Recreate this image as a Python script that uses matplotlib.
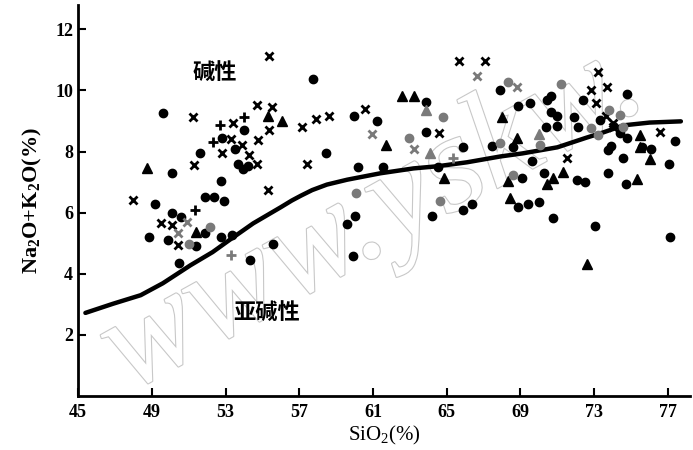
import matplotlib
matplotlib.use("Agg")
import matplotlib.pyplot as plt
import matplotlib.patheffects as pe

plt.rcParams['font.family'] = ['Liberation Serif', 'Noto Sans CJK SC']
plt.rcParams['mathtext.default'] = 'regular'

# dividing curve (alkaline / subalkaline)
curve_x = [45.4, 46.9, 48.4, 49.6, 51.1, 52.3, 53.2, 54.5, 56.0, 56.6, 57.1, 57.7,
           58.5, 59.6, 61.4, 63.2, 64.5, 66.1, 67.9, 69.1, 71.0, 72.6, 73.5, 74.6,
           76.0, 77.7]
curve_y = [2.72, 3.02, 3.30, 3.69, 4.28, 4.71, 5.10, 5.65, 6.18, 6.40, 6.56, 6.74,
           6.92, 7.08, 7.29, 7.45, 7.52, 7.65, 7.84, 7.94, 8.14, 8.46, 8.63, 8.86,
           8.95, 8.99]

dot_x = [49.6, 52.8, 54.0, 51.6, 53.5, 53.7, 53.95, 54.2, 50.1, 52.75, 49.2, 51.9,
         52.4, 52.9, 50.1, 50.6, 48.85, 49.9, 51.9, 52.75, 53.35, 51.4, 55.55, 54.35,
         50.5, 57.75, 59.95, 61.2, 58.45, 60.2, 61.55, 60.0, 59.6, 59.9, 63.9, 63.85,
         65.9, 67.45, 64.55, 64.2, 65.9, 66.35, 67.9, 74.8, 70.65, 70.45, 69.5, 68.85,
         72.4, 70.65, 71.0, 71.9, 73.3, 70.4, 71.0, 72.1, 74.4, 74.8, 77.4, 68.6,
         73.75, 73.9, 76.1, 75.6, 74.55, 77.05, 69.65, 70.3, 72.05, 72.5, 73.75, 74.7,
         69.1, 68.85, 69.4, 70.0, 70.75, 73.05, 77.1]
dot_y = [9.25, 8.45, 8.7, 7.97, 8.07, 7.61, 7.42, 7.52, 7.3, 7.04, 6.3, 6.52,
         6.5, 6.37, 5.98, 5.85, 5.2, 5.1, 5.35, 5.2, 5.26, 4.9, 4.97, 4.46,
         4.35, 10.39, 9.15, 9.0, 7.97, 7.5, 7.5, 5.88, 5.62, 4.58, 9.62, 8.65,
         8.15, 8.17, 7.5, 5.88, 6.08, 6.3, 10.03, 9.9, 9.82, 9.7, 9.58, 9.48,
         9.7, 9.3, 9.15, 9.12, 9.05, 8.8, 8.85, 8.8, 8.6, 8.45, 8.35, 8.14,
         8.04, 8.17, 8.07, 8.14, 7.78, 7.6, 7.7, 7.3, 7.06, 7.0, 7.29, 6.93,
         7.12, 6.18, 6.27, 6.34, 5.82, 5.56, 5.2]

tri_x = [55.3, 56.05, 48.75, 51.4, 62.6, 63.2, 61.7, 64.85, 68.0, 68.8, 75.5, 75.5,
         76.0, 70.75, 70.45, 71.3, 75.3, 68.3, 68.45, 72.6]
tri_y = [9.15, 9.0, 7.45, 5.36, 9.83, 9.83, 8.2, 7.12, 9.12, 8.43, 8.53, 8.14,
         7.75, 7.12, 6.93, 7.32, 7.09, 7.03, 6.47, 4.31]

cross_x = [55.35, 51.25, 54.7, 55.5, 53.4, 55.35, 53.3, 54.75, 53.9, 52.8, 54.3, 54.7,
           51.3, 55.3, 48.0, 49.5, 50.1, 50.4, 57.15, 57.9, 58.6, 60.55, 57.4, 64.6,
           65.65, 67.1, 73.2, 72.8, 73.7, 73.1, 73.65, 74.0, 74.0, 76.55, 71.5]
cross_y = [11.14, 9.12, 9.51, 9.45, 8.92, 8.7, 8.4, 8.37, 8.2, 7.94, 7.88, 7.61,
           7.55, 6.73, 6.4, 5.65, 5.59, 4.93, 8.82, 9.08, 9.15, 9.38, 7.61, 8.6,
           10.95, 10.95, 10.59, 10.03, 10.1, 9.6, 9.18, 8.95, 8.8, 8.63, 7.78]

plus_x = [52.7, 54.0, 52.3, 51.35]
plus_y = [8.86, 9.12, 8.3, 6.08]

# marks half hidden under the watermark (print shows them grey)
gdot_x = [64.65, 68.3, 71.2, 67.9, 70.05, 68.6, 73.8, 74.4, 74.55, 72.8, 73.2, 64.8,
          62.95, 60.1, 52.15, 51.0]
gdot_y = [6.37, 10.29, 10.2, 8.27, 8.2, 7.22, 9.35, 9.2, 8.82, 8.76, 8.53, 9.12,
          8.46, 6.63, 5.52, 4.97]
gtri_x = [63.9, 64.1, 70.0]
gtri_y = [9.35, 7.97, 8.56]
gcross_x = [50.9, 50.4, 60.95, 63.25, 66.65, 68.8]
gcross_y = [5.69, 5.33, 8.56, 8.07, 10.46, 10.13]
gplus_x = [53.3, 65.35]
gplus_y = [4.6, 7.78]

xticks = [45, 49, 53, 57, 61, 65, 69, 73, 77]
yticks = [2, 4, 6, 8, 10, 12]

fig = plt.figure(figsize=(6.93, 4.5), dpi=100)
ax = fig.add_axes([0.1126, 0.12, 0.8832, 0.869])

# watermark
ax.text(61.0, 5.8, 'www.yskw.', fontsize=100, rotation=29, ha='center', va='center',
        color='white', family='Liberation Serif', style='italic', zorder=0,
        path_effects=[pe.withStroke(linewidth=1.6, foreground='#c8c8c8')])

ax.plot(curve_x, curve_y, color='black', lw=3.2, solid_capstyle='round', zorder=2)

ax.plot(dot_x, dot_y, 'o', color='black', ms=6, zorder=3)
ax.plot(tri_x, tri_y, '^', color='black', ms=7.5, zorder=3)
ax.plot(cross_x, cross_y, 'x', color='black', ms=5.5, mew=2, zorder=3)
ax.plot(plus_x, plus_y, '+', color='black', ms=7, mew=2, zorder=3)
ax.plot(gdot_x, gdot_y, 'o', color='#7a7a7a', ms=6, zorder=3)
ax.plot(gtri_x, gtri_y, '^', color='#7a7a7a', ms=7.5, zorder=3)
ax.plot(gcross_x, gcross_y, 'x', color='#7a7a7a', ms=5.5, mew=2, zorder=3)
ax.plot(gplus_x, gplus_y, '+', color='#7a7a7a', ms=7, mew=2, zorder=3)

ax.text(52.4, 10.6, '碱性', fontsize=16, fontweight='bold', ha='center', va='center',
        family='Noto Sans CJK SC')
ax.text(55.25, 2.72, '亚碱性', fontsize=16, fontweight='bold', ha='center', va='center',
        family='Noto Sans CJK SC')

ax.set_xlim(45, 78.2)
ax.set_ylim(0, 12.8)
ax.set_xticks(xticks)
ax.set_yticks(yticks)
ax.tick_params(axis='both', direction='in', width=1.5, length=6, labelsize=13)
ax.tick_params(axis='x', pad=6)
for lab in ax.get_xticklabels() + ax.get_yticklabels():
    lab.set_fontweight('bold')

for s in ['top', 'right']:
    ax.spines[s].set_visible(False)
for s in ['left', 'bottom']:
    ax.spines[s].set_linewidth(2)

ax.set_xlabel('SiO$_2$(%)', fontsize=15, labelpad=2)
ax.set_ylabel('Na$_2$O+K$_2$O(%)', fontsize=16, fontweight='bold', labelpad=8)

fig.savefig('out.png', dpi=100)
